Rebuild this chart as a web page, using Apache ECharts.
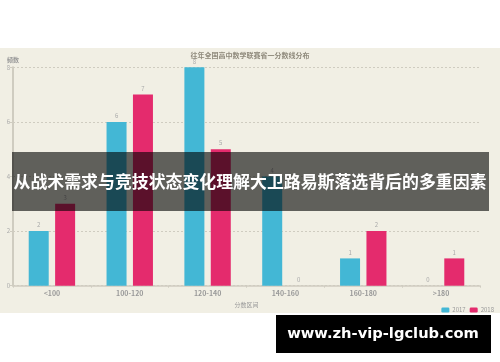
<!DOCTYPE html>
<html>
<head>
<meta charset="utf-8">
<script src="https://cdn.jsdelivr.net/npm/echarts@6/dist/echarts.min.js"></script>
<style>
html,body{margin:0;padding:0;background:#fff;}
#bg{position:absolute;left:0;top:48px;width:500px;height:265px;background:#f1efe4;}
#main{position:absolute;left:0;top:0;width:500px;height:362px;}
</style>
</head>
<body>
<div id="bg"></div>
<div id="main"></div>
<script>
const titleText = '往年全国高中数学联赛省一分数线分布';
const categories = ['<100', '100-120', '120-140', '140-160', '160-180', '>180'];
const series2017 = [2, 6, 8, 4, 1, 0];
const series2018 = [3, 7, 5, 0, 2, 1];
const yTicks = [0, 2, 4, 6, 8];
const overlayText = '从战术需求与竞技状态变化理解大卫路易斯落选背后的多重因素';
const urlText = 'www.zh-vip-lgclub.com';

const FONT = '"Noto Sans CJK SC", "Noto Sans", sans-serif';
const chart = echarts.init(document.getElementById('main'), null, {renderer: 'canvas'});
chart.setOption({
  backgroundColor: 'transparent',
  animation: false,
  title: {
    text: titleText, left: 'center', top: 47,
    textStyle: {fontSize: 7, fontWeight: 'bold', color: '#8f8a7c', fontFamily: FONT}
  },
  legend: {
    right: 1, top: 302, itemWidth: 8, itemHeight: 5, itemGap: 4,
    textStyle: {fontSize: 6, color: '#999', fontFamily: FONT, padding: [0, 0, 0, -2]},
    data: ['2017', '2018']
  },
  grid: {left: 13, right: 20, top: 67.3, bottom: 76.3, containLabel: false},
  xAxis: {
    type: 'category', data: categories,
    name: '分数区间', nameLocation: 'middle', nameGap: 11,
    nameTextStyle: {fontSize: 6, color: '#999', fontFamily: FONT},
    axisLine: {lineStyle: {color: '#cfccc0', width: 1.5}},
    axisTick: {show: true, length: 2, lineStyle: {color: '#cfccc0'}},
    axisLabel: {fontSize: 7, fontWeight: 'bold', color: '#999', margin: 4, fontFamily: FONT}
  },
  yAxis: {
    type: 'value', min: yTicks[0], max: yTicks[yTicks.length - 1], interval: 2,
    name: '频数', nameLocation: 'end', nameGap: 5,
    nameTextStyle: {fontSize: 6, fontWeight: 'bold', color: '#999', fontFamily: FONT, align: 'center'},
    axisLine: {show: true, lineStyle: {color: '#cfccc0', width: 2}},
    axisTick: {show: true, length: 3, lineStyle: {color: '#cfccc0'}},
    axisLabel: {fontSize: 6, color: '#aaa', margin: 3, fontFamily: FONT},
    splitLine: {lineStyle: {color: '#cfccc0', type: [2, 2], width: 1}}
  },
  series: [
    {
      name: '2017', type: 'bar', data: series2017, barWidth: 20, barGap: '32%',
      itemStyle: {color: '#43b7d5'},
      label: {show: true, position: 'top', distance: 3, fontSize: 6, color: '#aaa', fontFamily: FONT}
    },
    {
      name: '2018', type: 'bar', data: series2018, barWidth: 20,
      itemStyle: {color: '#e42b6d'},
      label: {show: true, position: 'top', distance: 3, fontSize: 6, color: '#aaa', fontFamily: FONT}
    }
  ],
  graphic: [
    {
      type: 'rect', z: 100, shape: {x: 12, y: 152, width: 477, height: 59},
      style: {fill: 'rgba(0,0,0,0.6)'}
    },
    {
      type: 'text', z: 101, x: 250, y: 182,
      style: {text: overlayText, fill: '#fff', font: 'bold 16.9px ' + FONT, textAlign: 'center', textVerticalAlign: 'middle'}
    },
    {
      type: 'rect', z: 100, shape: {x: 276, y: 315, width: 215, height: 38},
      style: {fill: '#000'}
    },
    {
      type: 'text', z: 101, x: 383, y: 334,
      style: {text: urlText, fill: '#fff', font: 'bold 14.7px "DejaVu Sans", sans-serif', textAlign: 'center', textVerticalAlign: 'middle'}
    }
  ]
});
</script>
</body>
</html>
